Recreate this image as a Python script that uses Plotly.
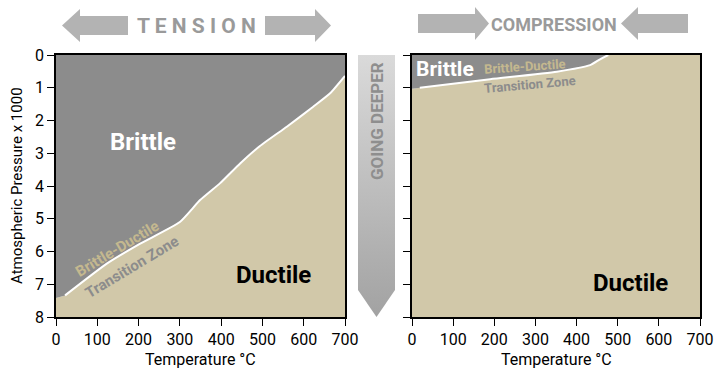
import plotly.graph_objects as go

# ---- data ----
temp_tension = [0, 22, 123, 204, 300, 349, 397, 446, 494, 559, 623, 664, 700]
pres_tension = [7.42, 7.34, 6.37, 5.76, 5.10, 4.43, 3.92, 3.31, 2.78, 2.19, 1.58, 1.17, 0.64]
temp_compression = [0, 19, 190, 352, 433, 457, 477]
pres_compression = [1.03, 1.0, 0.74, 0.51, 0.31, 0.13, 0.0]
x_ticks = [0, 100, 200, 300, 400, 500, 600, 700]
y_ticks = [0, 1, 2, 3, 4, 5, 6, 7, 8]
T_MAX = 700
P_MAX = 8

GREY = "#8c8c8c"
TAN = "#d1c8a9"
TAN_TXT = "#c4b88f"
FONT = "Roboto, Liberation Sans, sans-serif"
W, H = 720, 380

fig = go.Figure()


def add_panel(temps, pres, xa, ya):
    # ductile region (below the boundary)
    fig.add_trace(go.Scatter(
        x=temps + [T_MAX, T_MAX, 0], y=pres + [pres[-1], P_MAX, P_MAX],
        fill="toself", fillcolor=TAN, mode="lines", line=dict(width=0),
        xaxis=xa, yaxis=ya, hoverinfo="skip", showlegend=False))
    # brittle region (above the boundary)
    fig.add_trace(go.Scatter(
        x=temps + [temps[-1], 0], y=pres + [0, 0],
        fill="toself", fillcolor=GREY, mode="lines", line=dict(width=0),
        xaxis=xa, yaxis=ya, hoverinfo="skip", showlegend=False))
    # white transition line
    fig.add_trace(go.Scatter(
        x=temps[1:], y=pres[1:], mode="lines",
        line=dict(color="white", width=2, shape="spline", smoothing=0.5),
        xaxis=xa, yaxis=ya, hoverinfo="skip", showlegend=False))


add_panel(temp_tension, pres_tension, "x", "y")
add_panel(temp_compression, pres_compression, "x2", "y2")

# ---- decorations in pixel space (overlay axes) ----
def poly(pts, **kw):
    xs = [p[0] for p in pts] + [pts[0][0]]
    ys = [p[1] for p in pts] + [pts[0][1]]
    fig.add_trace(go.Scatter(x=xs, y=ys, fill="toself", mode="lines",
                             line=dict(width=0), xaxis="x3", yaxis="y3",
                             hoverinfo="skip", showlegend=False, **kw))

ARROW = "#b3b3b3"

def h_arrow(x_tail, x_head_base, x_tip, yc, sh=9.5, hh=16.5):
    pts = [(x_tail, yc - sh), (x_head_base, yc - sh), (x_head_base, yc - hh),
           (x_tip, yc), (x_head_base, yc + hh), (x_head_base, yc + sh), (x_tail, yc + sh)]
    poly(pts, fillcolor=ARROW)

# tension arrows (pointing outward)
h_arrow(128, 80, 62, 25.5)
h_arrow(265, 315, 331, 25.5)
# compression arrows (pointing inward)
h_arrow(418, 475, 489, 23.5)
h_arrow(688, 638, 621, 23.5)

# going deeper arrow with gradient
poly([(358, 55), (395, 55), (395, 290), (376.5, 317), (358, 290)],
     fillcolor="#c0c0c0",
     fillgradient=dict(type="vertical", start=55, stop=317,
                       colorscale=[[0, "#dadada"], [1, "#a2a2a2"]]))

axis_common = dict(
    showgrid=False, zeroline=False, showline=True, mirror=True,
    linecolor="black", linewidth=1.5, ticks="outside", ticklen=7,
    tickcolor="black", tickwidth=1.2, automargin=False,
    tickfont=dict(family=FONT, size=16, color="black"),
)

fig.update_layout(
    width=W, height=H, margin=dict(l=0, r=0, t=0, b=0, autoexpand=False),
    paper_bgcolor="white", plot_bgcolor="rgba(0,0,0,0)",
    font=dict(family=FONT, color="black"),
    showlegend=False,
    xaxis=dict(domain=[56 / W, 345 / W], range=[0, T_MAX], tickvals=x_ticks,
               anchor="y", **axis_common),
    yaxis=dict(domain=[1 - 317 / H, 1 - 55 / H], range=[P_MAX, 0], tickvals=y_ticks,
               anchor="x", **axis_common),
    xaxis2=dict(domain=[412 / W, 700 / W], range=[0, T_MAX], tickvals=x_ticks,
                anchor="y2", **axis_common),
    yaxis2=dict(domain=[1 - 317 / H, 1 - 55 / H], range=[P_MAX, 0], tickvals=y_ticks,
                showticklabels=False, anchor="x2", **axis_common),
    xaxis3=dict(domain=[0, 1], range=[0, W], visible=False, anchor="y3", automargin=False),
    yaxis3=dict(domain=[0, 1], range=[H, 0], visible=False, anchor="x3", automargin=False),
)

ann = []

def label(text, x, y, ref, size, color, bold=True, angle=0):
    xr, yr = ref
    ann.append(dict(text=f"<b>{text}</b>" if bold else text, x=x, y=y, xref=xr, yref=yr,
                    showarrow=False, textangle=angle,
                    font=dict(family=FONT, size=size, color=color),
                    xanchor="center", yanchor="middle"))

L = ("x", "y")
R = ("x2", "y2")
P = ("x3", "y3")

label("Brittle", 211, 2.65, L, 24, "white")
label("Ductile", 526, 6.73, L, 24, "black")
label("Brittle-Ductile", 147, 5.91, L, 15, TAN_TXT, angle=-31)
label("Transition Zone", 184, 6.47, L, 15, GREY, angle=-31)

label("Brittle", 80, 0.44, R, 21, "white")
label("Brittle-Ductile", 275, 0.36, R, 13, TAN_TXT, angle=-4)
label("Transition Zone", 287, 0.89, R, 13, GREY, angle=-5)
label("Ductile", 530, 6.97, R, 24, "black")

label("T E N S I O N", 196, 26, P, 21, "#9a9a9a")
label("COMPRESSION", 554, 24, P, 18, "#9a9a9a")
label("GOING DEEPER", 377, 121, P, 17, "#8e8e8e", angle=-90)

# axis titles
label("Atmospheric Pressure x 1000", 17, 186, P, 15, "black", bold=False, angle=-90)
label("Temperature °C", 200.5, 359, P, 16, "black", bold=False)
label("Temperature °C", 556, 359, P, 16, "black", bold=False)

fig.update_layout(annotations=ann)

fig.write_html("out.html", config={"displayModeBar": False},
               post_script="document.body.style.margin='0';document.body.style.padding='0';")
